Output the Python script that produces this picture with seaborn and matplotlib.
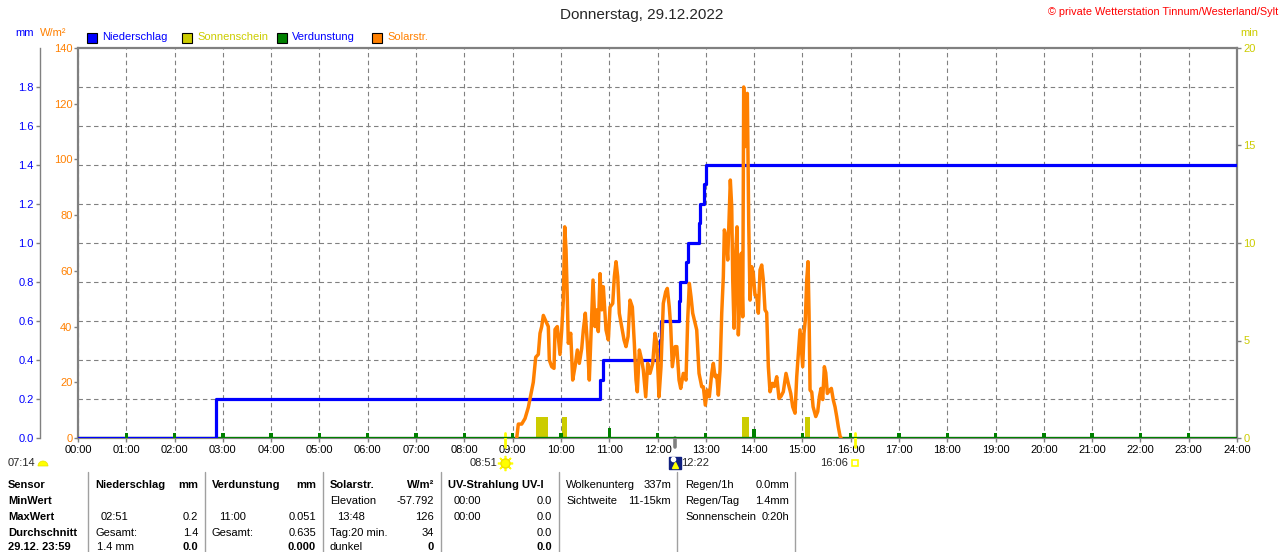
import numpy as np
import pandas as pd
import matplotlib
matplotlib.use("Agg")
import matplotlib.pyplot as plt
import matplotlib.transforms as mtransforms
from matplotlib.patches import Rectangle, Wedge
from matplotlib.lines import Line2D
import seaborn as sns

# ---------------- data ----------------
hours = list(range(25))
hour_labels = [f"{h:02d}:00" for h in hours]

solar_t = [9.085, 9.118, 9.188, 9.257, 9.325, 9.395, 9.428, 9.478, 9.532, 9.567,
           9.602, 9.636, 9.691, 9.739, 9.760, 9.809, 9.857, 9.878, 9.925, 9.981,
           10.017, 10.050, 10.079, 10.106, 10.133, 10.153, 10.203, 10.244, 10.292, 10.340,
           10.381, 10.431, 10.464, 10.505, 10.547, 10.588, 10.623, 10.665, 10.706, 10.741,
           10.774, 10.810, 10.845, 10.878, 10.934, 10.982, 11.017, 11.073, 11.106, 11.141,
           11.176, 11.209, 11.259, 11.307, 11.348, 11.390, 11.431, 11.479, 11.520, 11.555,
           11.582, 11.624, 11.673, 11.706, 11.756, 11.797, 11.845, 11.901, 11.949, 11.984,
           12.031, 12.073, 12.120, 12.170, 12.203, 12.244, 12.274, 12.307, 12.363, 12.400,
           12.446, 12.481, 12.535, 12.590, 12.625, 12.659, 12.694, 12.729, 12.762, 12.812,
           12.860, 12.916, 12.949, 12.990, 13.032, 13.073, 13.123, 13.156, 13.191, 13.226,
           13.260, 13.295, 13.330, 13.363, 13.384, 13.419, 13.454, 13.481, 13.508, 13.537,
           13.558, 13.585, 13.612, 13.647, 13.674, 13.709, 13.736, 13.765, 13.785, 13.812,
           13.839, 13.860, 13.889, 13.916, 13.951, 13.984, 14.019, 14.054, 14.088, 14.123,
           14.158, 14.191, 14.226, 14.261, 14.295, 14.330, 14.378, 14.419, 14.469, 14.516,
           14.558, 14.605, 14.661, 14.709, 14.759, 14.800, 14.848, 14.883, 14.916, 14.951,
           14.986, 15.007, 15.034, 15.061, 15.090, 15.117, 15.138, 15.159, 15.194, 15.222,
           15.277, 15.318, 15.352, 15.386, 15.421, 15.455, 15.484, 15.517, 15.558, 15.600,
           15.641, 15.676, 15.711, 15.744, 15.780, 15.800]
solar_wm2 = [0, 5, 5, 7, 11, 17, 20, 29, 30, 37.6,
             40, 44, 41.8, 40, 28, 25.6, 25, 39, 40, 30,
             38.8, 49.5, 75.8, 67.5, 49.5, 34, 37.6, 20.8, 25.6, 31.6,
             26.8, 32.2, 38.8, 44.8, 34, 20.8, 37.6, 56.7, 40, 46,
             38.2, 59, 46, 54.3, 38.8, 35.2, 47, 48.3, 57.9, 63.3,
             57.9, 44.8, 40, 35.2, 32.8, 36.4, 49.5, 47, 34, 20.8,
             16.6, 31.6, 28, 24.4, 14.8, 26.8, 23.2, 26.8, 37.6, 34,
             14.8, 25.6, 48.3, 52.5, 53.7, 47, 40, 25.6, 32.8, 32.8,
             20.8, 17.8, 23.2, 20.8, 42.4, 55.5, 50.7, 44.8, 42.4, 38.8,
             23.2, 18.4, 18.4, 11.8, 17.2, 14.8, 23.2, 26.8, 22, 22.5,
             15.4, 24.4, 44.8, 57.9, 74.7, 72.3, 63.9, 78.2, 92.6, 83,
             56.7, 39.4, 63.9, 75.8, 37, 51.9, 66.3, 43.5, 126, 104.6,
             108, 123.7, 77, 49.5, 61.5, 59, 51.3, 51, 44.8, 60.3,
             62.1, 56.7, 46, 45, 25.6, 16.6, 19.6, 18.5, 22, 14.2,
             15, 16.6, 23.2, 19.5, 16, 11.2, 8.9, 22, 30.4, 38.8,
             30.4, 25.6, 37.6, 42.4, 56.7, 63.3, 44.8, 17.2, 16.5, 11.2,
             7.7, 9.5, 14.8, 17.8, 13.8, 25.6, 23.4, 16, 17, 17.8,
             13.6, 11.2, 7.7, 4, 0.7, 0]

rain_t = [0, 2.85, 10.81, 10.87, 12.05, 12.08, 12.44, 12.47, 12.60, 12.64,
          12.85, 12.88, 12.97, 13.00, 24]
rain_mm = [0.0, 0.2, 0.3, 0.4, 0.5, 0.6, 0.7, 0.8, 0.9, 1.0,
           1.1, 1.2, 1.3, 1.4, 1.4]

sun_start = [9.48, 10.03, 13.76, 15.06]
sun_end = [9.73, 10.12, 13.89, 15.16]
sun_min = [1.1, 1.1, 1.1, 1.1]

evap_hours = [1, 2, 3, 4, 5, 6, 7, 8, 9, 10, 11, 12, 13, 14, 15, 16, 17, 18, 19, 20, 21, 22, 23]
evap_mm = [0.025, 0.025, 0.025, 0.025, 0.025, 0.025, 0.025, 0.025, 0.025, 0.025, 0.051, 0.025,
           0.025, 0.048, 0.028, 0.025, 0.025, 0.025, 0.025, 0.025, 0.025, 0.025, 0.025]

mm_ticks = [0.0, 0.2, 0.4, 0.6, 0.8, 1.0, 1.2, 1.4, 1.6, 1.8]
wm2_ticks = [0, 20, 40, 60, 80, 100, 120, 140]
min_ticks = [0, 5, 10, 15, 20]

sun_events_t = [8.85, 12.367, 16.1]
sun_events_lbl = ["08:51", "12:22", "16:06"]
dawn_label = "07:14"

# ---------------- style ----------------
sns.set_theme(style="white")
plt.rcParams['font.family'] = ['Liberation Sans', 'DejaVu Sans']
plt.rcParams['font.size'] = 8

BLUE = '#0000ff'
ORANGE = '#ff8000'
SUNC = '#cccc00'
GREEN = '#008000'
GRAY = '#808080'
W, H = 1280, 552

fig = plt.figure(figsize=(12.8, 5.52), dpi=100)
fig.patch.set_facecolor('white')

def fx(x):
    return x / W

def fy(y):
    return 1 - y / H

rect = [fx(78), fy(438), (1237 - 78) / W, 390 / H]
ax = fig.add_axes(rect)
ax.set_facecolor('white')
ax.set_xlim(0, 24)
ax.set_ylim(0, 20)

# sunshine bars (right axis, min)
ax.bar(sun_start, sun_min, width=np.subtract(sun_end, sun_start), align='edge',
       color=SUNC, edgecolor='none', zorder=2)
ax.set_xticks(hours)
ax.set_xticklabels(hour_labels)
ax.tick_params(axis='x', bottom=True, length=3, width=1, color=GRAY,
               labelcolor='black', labelsize=8, pad=2)
ax.grid(axis='x', color=GRAY, linestyle=(0, (4, 3)), linewidth=0.8)
ax.grid(axis='y', visible=False)
for s in ['top', 'left', 'right', 'bottom']:
    ax.spines[s].set_color(GRAY)
    ax.spines[s].set_linewidth(1.6)
    ax.spines[s].set_visible(True)

# mm axis (left, offset)
ax_mm = ax.twinx()
ax_mm.set_ylim(0, 2.0)

ax_mm.axhline(0, color=GREEN, linewidth=1.6, zorder=2)
ax_mm.bar(evap_hours, evap_mm, width=0.07, color=GREEN, edgecolor='none', zorder=4)
rain_df = pd.DataFrame({'t': rain_t, 'mm': rain_mm})
sns.lineplot(data=rain_df, x='t', y='mm', ax=ax_mm, color=BLUE, linewidth=2.3,
             drawstyle='steps-post', estimator=None, sort=False, zorder=3)
ax_mm.set_xlabel('')
ax_mm.set_ylabel('')

# W/m2 axis (left at frame)
ax_w = ax.twinx()
ax_w.set_ylim(0, 140)
solar_df = pd.DataFrame({'t': solar_t, 'wm2': solar_wm2})
sns.lineplot(data=solar_df, x='t', y='wm2', ax=ax_w, color=ORANGE, linewidth=2.5,
             estimator=None, sort=False, zorder=5)
ax_w.set_xlabel('')
ax_w.set_ylabel('')
ax_w.set_xlim(0, 24)
ax.set_xlabel('')

# ---- axis configuration after twins (twinx resets tick sides) ----
ax.yaxis.tick_right()
ax.set_yticks(min_ticks)
ax.set_yticklabels([str(v) for v in min_ticks])
ax.tick_params(axis='y', right=True, left=False, labelright=True, labelleft=False,
               length=3, width=1, color=GRAY, labelcolor=SUNC, labelsize=8, pad=1.5)

ax_mm.yaxis.tick_left()
ax_mm.set_yticks(mm_ticks)
ax_mm.set_yticklabels([f"{v:.1f}" for v in mm_ticks])
ax_mm.tick_params(axis='y', left=True, right=False, labelleft=True, labelright=False,
                  length=3, width=1, color=GRAY, labelcolor=BLUE, labelsize=8, pad=1.5)
ax_mm.grid(axis='y', color=GRAY, linestyle=(0, (4, 3)), linewidth=0.8)
for s in ['top', 'right', 'bottom']:
    ax_mm.spines[s].set_visible(False)
ax_mm.spines['left'].set_visible(True)
ax_mm.spines['left'].set_position(('outward', 27.4))
ax_mm.spines['left'].set_color(GRAY)
ax_mm.spines['left'].set_linewidth(1.0)

ax_w.yaxis.tick_left()
ax_w.set_yticks(wm2_ticks)
ax_w.set_yticklabels([str(v) for v in wm2_ticks])
ax_w.tick_params(axis='y', left=True, right=False, labelleft=True, labelright=False,
                 length=3, width=1, color=GRAY, labelcolor=ORANGE, labelsize=8, pad=1)
for s in ['top', 'right', 'bottom', 'left']:
    ax_w.spines[s].set_visible(False)

# sunrise / noon / sunset markers below axis
blend = mtransforms.blended_transform_factory(ax.transData, ax.transAxes)
for t_, c, lw, y0 in zip(sun_events_t, ['#ffff00', GRAY, '#ffff00'], [2.0, 2.6, 2.0], [0.0128, 0.0, 0.0128]):
    ax.add_line(Line2D([t_, t_], [y0, -0.023], transform=blend, color=c, linewidth=lw,
                       clip_on=False, zorder=6))
ylab = -0.064
ax.plot([sun_events_t[0]], [ylab], transform=blend, marker=(8, 2, 0), markersize=11,
        color='#ffff00', markeredgewidth=1.2, clip_on=False)
ax.plot([sun_events_t[0]], [ylab], transform=blend, marker='o', markersize=6.5,
        color='#ffff00', markeredgecolor='#f0e000', clip_on=False)
ax.annotate(sun_events_lbl[0], xy=(sun_events_t[0], ylab), xycoords=blend, xytext=(-6, 0),
            textcoords='offset points', ha='right', va='center', fontsize=8, annotation_clip=False)
ax.plot([sun_events_t[1]], [ylab], transform=blend, marker='s', markersize=8,
        color='#102080', clip_on=False)
ax.plot([sun_events_t[1]], [ylab - 0.006], transform=blend, marker='^', markersize=4,
        color='#ffff00', clip_on=False)
ax.plot([sun_events_t[1] - 0.04], [ylab + 0.01], transform=blend, marker='o', markersize=3,
        color='white', clip_on=False)
ax.annotate(sun_events_lbl[1], xy=(sun_events_t[1], ylab), xycoords=blend, xytext=(4.5, 0),
            textcoords='offset points', ha='left', va='center', fontsize=8, annotation_clip=False)
ax.plot([sun_events_t[2]], [ylab], transform=blend, marker='s', markersize=5,
        markerfacecolor='white', markeredgecolor='#ffff00', markeredgewidth=1.2, clip_on=False)
ax.annotate(sun_events_lbl[2], xy=(sun_events_t[2], ylab), xycoords=blend, xytext=(-5.5, 0),
            textcoords='offset points', ha='right', va='center', fontsize=8, annotation_clip=False)

fig.text(fx(8), fy(463), dawn_label, ha='left', va='center', fontsize=8)
fig.add_artist(Wedge((43, H - 466), 5, 0, 180, transform=mtransforms.IdentityTransform(),
                     facecolor='#ffff00', edgecolor='#e8e000', linewidth=0.5))

# ---------------- header texts ----------------
fig.text(fx(642), fy(15), "Donnerstag, 29.12.2022", ha='center', va='center', fontsize=11)
fig.text(fx(1278), fy(12), "© private Wetterstation Tinnum/Westerland/Sylt", ha='right',
         va='center', fontsize=7.8, color='#ff0000')
fig.text(fx(15), fy(33), "mm", ha='left', va='center', fontsize=8, color=BLUE)
fig.text(fx(40), fy(33), "W/m²", ha='left', va='center', fontsize=8, color=ORANGE)
fig.text(fx(1240), fy(33), "min", ha='left', va='center', fontsize=8, color=SUNC)

legend_items = [("Niederschlag", BLUE, BLUE, 87), ("Sonnenschein", SUNC, SUNC, 182),
                ("Verdunstung", GREEN, BLUE, 277), ("Solarstr.", ORANGE, ORANGE, 372)]
for name, fc, tc, x0 in legend_items:
    fig.add_artist(Rectangle((x0, H - 43), 10, 10, transform=mtransforms.IdentityTransform(),
                             facecolor=fc, edgecolor='black', linewidth=0.8))
    fig.text(fx(x0 + 15), fy(37.5), name, ha='left', va='center', fontsize=8, color=tc)

# ---------------- bottom table ----------------
def t(x, y, s, ha='left', bold=False, color='black'):
    fig.text(fx(x), fy(y), s, ha=ha, va='center', fontsize=8, color=color,
             fontweight='bold' if bold else 'normal')

for xs in [88, 205, 323, 441, 559, 677, 795]:
    fig.add_artist(Line2D([fx(xs), fx(xs)], [fy(472), fy(552)], transform=fig.transFigure,
                          color='#a0a0a0', linewidth=1.0))

rows = [485, 501, 517, 533, 547]
t(8, rows[0], "Sensor", bold=True)
t(8, rows[1], "MinWert", bold=True)
t(8, rows[2], "MaxWert", bold=True)
t(8, rows[3], "Durchschnitt", bold=True)
t(8, rows[4], "29.12. 23:59", bold=True)

t(95, rows[0], "Niederschlag", bold=True)
t(198, rows[0], "mm", ha='right', bold=True)
t(101, rows[2], "02:51")
t(198, rows[2], "0.2", ha='right')
t(95, rows[3], "Gesamt:")
t(198, rows[3], "1.4", ha='right')
t(97, rows[4], "1.4 mm")
t(198, rows[4], "0.0", ha='right', bold=True)

t(212, rows[0], "Verdunstung", bold=True)
t(316, rows[0], "mm", ha='right', bold=True)
t(219, rows[2], "11:00")
t(316, rows[2], "0.051", ha='right')
t(212, rows[3], "Gesamt:")
t(316, rows[3], "0.635", ha='right')
t(316, rows[4], "0.000", ha='right', bold=True)

t(330, rows[0], "Solarstr.", bold=True)
t(434, rows[0], "W/m²", ha='right', bold=True)
t(330, rows[1], "Elevation")
t(434, rows[1], "-57.792", ha='right')
t(337, rows[2], "13:48")
t(434, rows[2], "126", ha='right')
t(330, rows[3], "Tag:20 min.")
t(434, rows[3], "34", ha='right')
t(330, rows[4], "dunkel")
t(434, rows[4], "0", ha='right', bold=True)

t(448, rows[0], "UV-Strahlung UV-I", bold=True)
t(454, rows[1], "00:00")
t(552, rows[1], "0.0", ha='right')
t(454, rows[2], "00:00")
t(552, rows[2], "0.0", ha='right')
t(552, rows[3], "0.0", ha='right')
t(552, rows[4], "0.0", ha='right', bold=True)

t(566, rows[0], "Wolkenunterg")
t(671, rows[0], "337m", ha='right')
t(566, rows[1], "Sichtweite")
t(671, rows[1], "11-15km", ha='right')

t(685, rows[0], "Regen/1h")
t(789, rows[0], "0.0mm", ha='right')
t(685, rows[1], "Regen/Tag")
t(789, rows[1], "1.4mm", ha='right')
t(685, rows[2], "Sonnenschein")
t(789, rows[2], "0:20h", ha='right')

fig.savefig("out.png", dpi=100, facecolor='white')
